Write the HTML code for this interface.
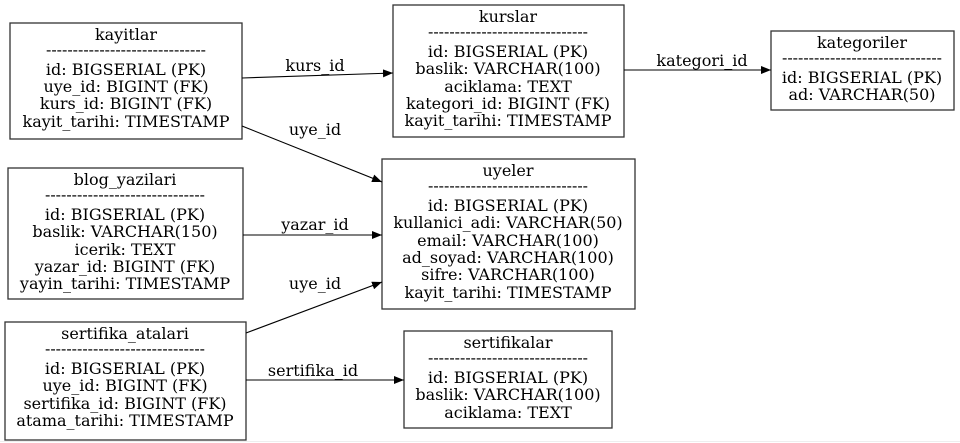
<!DOCTYPE html>
<html><head><meta charset="utf-8"><style>
html,body{margin:0;padding:0;background:#fff;}
svg{display:block;}
text{font-family:"DejaVu Serif","Liberation Serif",serif;font-size:16px;fill:#000;}
</style></head><body>
<svg width="960" height="443" viewBox="0 0 960 443" xmlns="http://www.w3.org/2000/svg">
<defs><marker id="a" markerWidth="10" markerHeight="8" refX="10" refY="4" orient="auto" markerUnits="userSpaceOnUse"><path d="M0,0 L10,4 L0,8 Z" fill="#000"/></marker></defs>
<g fill="none" stroke="#333" stroke-width="1.3">
<rect x="10" y="23" width="232" height="116"/>
<rect x="393" y="5" width="231" height="132"/>
<rect x="771" y="31" width="183" height="79"/>
<rect x="382" y="159" width="253" height="150"/>
<rect x="8" y="168" width="235" height="131"/>
<rect x="5" y="322" width="241" height="118"/>
<rect x="404" y="331" width="208" height="97"/>
</g>
<g stroke="#000" stroke-width="1.1" fill="none">
<line x1="242" y1="78" x2="393" y2="73" marker-end="url(#a)"/>
<line x1="242" y1="126" x2="382" y2="182" marker-end="url(#a)"/>
<line x1="624" y1="70" x2="771" y2="70" marker-end="url(#a)"/>
<line x1="243" y1="235" x2="382" y2="235" marker-end="url(#a)"/>
<line x1="246" y1="333" x2="382" y2="282" marker-end="url(#a)"/>
<line x1="246" y1="380" x2="404" y2="380" marker-end="url(#a)"/>
</g>
<g text-anchor="middle">
<text x="315" y="71">kurs_id</text>
<text x="315" y="135">uye_id</text>
<text x="702" y="66">kategori_id</text>
<text x="315" y="230">yazar_id</text>
<text x="315" y="289">uye_id</text>
<text x="313" y="376">sertifika_id</text>

<text x="126" y="40">kayitlar</text>
<text x="126" y="55" textLength="160" lengthAdjust="spacingAndGlyphs">------------------------------</text>
<text x="126" y="75">id: BIGSERIAL (PK)</text>
<text x="126" y="92">uye_id: BIGINT (FK)</text>
<text x="126" y="109">kurs_id: BIGINT (FK)</text>
<text x="126" y="127">kayit_tarihi: TIMESTAMP</text>

<text x="508" y="22">kurslar</text>
<text x="508" y="37" textLength="160" lengthAdjust="spacingAndGlyphs">------------------------------</text>
<text x="508" y="57">id: BIGSERIAL (PK)</text>
<text x="508" y="74">baslik: VARCHAR(100)</text>
<text x="508" y="92">aciklama: TEXT</text>
<text x="508" y="109">kategori_id: BIGINT (FK)</text>
<text x="508" y="126">kayit_tarihi: TIMESTAMP</text>

<text x="862" y="48">kategoriler</text>
<text x="862" y="63" textLength="160" lengthAdjust="spacingAndGlyphs">------------------------------</text>
<text x="862" y="83">id: BIGSERIAL (PK)</text>
<text x="862" y="100">ad: VARCHAR(50)</text>

<text x="508" y="176">uyeler</text>
<text x="508" y="191" textLength="160" lengthAdjust="spacingAndGlyphs">------------------------------</text>
<text x="508" y="211">id: BIGSERIAL (PK)</text>
<text x="508" y="228">kullanici_adi: VARCHAR(50)</text>
<text x="508" y="246">email: VARCHAR(100)</text>
<text x="508" y="263">ad_soyad: VARCHAR(100)</text>
<text x="508" y="280">sifre: VARCHAR(100)</text>
<text x="508" y="298">kayit_tarihi: TIMESTAMP</text>

<text x="125" y="185">blog_yazilari</text>
<text x="125" y="200" textLength="160" lengthAdjust="spacingAndGlyphs">------------------------------</text>
<text x="125" y="220">id: BIGSERIAL (PK)</text>
<text x="125" y="237">baslik: VARCHAR(150)</text>
<text x="125" y="255">icerik: TEXT</text>
<text x="125" y="272">yazar_id: BIGINT (FK)</text>
<text x="125" y="289">yayin_tarihi: TIMESTAMP</text>

<text x="125" y="339">sertifika_atalari</text>
<text x="125" y="354" textLength="160" lengthAdjust="spacingAndGlyphs">------------------------------</text>
<text x="125" y="374">id: BIGSERIAL (PK)</text>
<text x="125" y="391">uye_id: BIGINT (FK)</text>
<text x="125" y="409">sertifika_id: BIGINT (FK)</text>
<text x="125" y="426">atama_tarihi: TIMESTAMP</text>

<text x="508" y="348">sertifikalar</text>
<text x="508" y="363" textLength="160" lengthAdjust="spacingAndGlyphs">------------------------------</text>
<text x="508" y="383">id: BIGSERIAL (PK)</text>
<text x="508" y="400">baslik: VARCHAR(100)</text>
<text x="508" y="418">aciklama: TEXT</text>
</g>
<line x1="0" y1="441.5" x2="960" y2="441.5" stroke="#eee" stroke-width="1"/>
</svg>
</body></html>
